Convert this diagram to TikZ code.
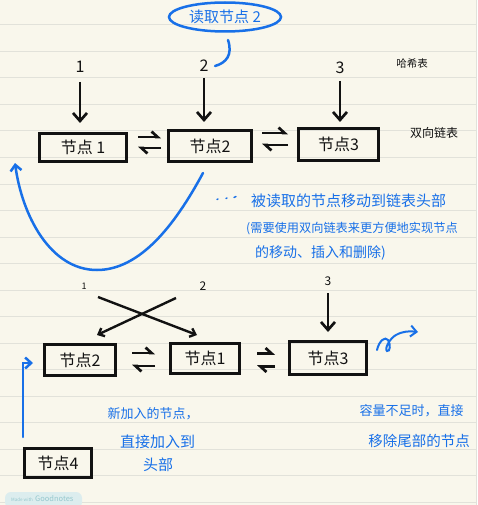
\documentclass[tikz,border=0pt]{standalone}
\usepackage{fontspec}
\setmainfont{Noto Sans CJK SC}
\usetikzlibrary{arrows.meta,calc,shapes.geometric}
\definecolor{paper}{RGB}{249,247,236}
\definecolor{ruleline}{RGB}{226,226,218}
\definecolor{ink}{RGB}{18,18,18}
\definecolor{pen}{RGB}{24,112,232}
\definecolor{wmbg}{RGB}{220,237,238}
\definecolor{wmtext}{RGB}{150,200,206}
\newcommand{\fs}[1]{\fontsize{#1}{#1}\selectfont}
\begin{document}
\begin{tikzpicture}[x=1pt,y=-1pt,
  box/.style={draw=ink,line width=3pt,inner sep=0pt,text=ink,font=\fs{16}},
  num/.style={inner sep=0pt,text=ink,font=\fs{16}},
  darr/.style={draw=ink,line width=2.7pt,-{Straight Barb[length=8pt,width=14pt]}},
  carr/.style={draw=ink,line width=2.4pt,-{Straight Barb[length=5pt,width=9pt]}},
  harp/.style={draw=ink,line width=2.7pt,-{Straight Barb[left,length=6pt,width=11pt]}},
  bline/.style={draw=pen,line width=2.5pt,line cap=round},
  barr/.style={bline,-{Straight Barb[length=6pt,width=11pt]}},
  btext/.style={text=pen,inner sep=0pt},
  side/.style={text=ink,inner sep=0pt},
]
\useasboundingbox (0,0) rectangle (478,505);
% paper
\fill[paper] (0,0) rectangle (478,505);
\foreach \k in {0,...,18} \draw[ruleline,line width=1pt] (0,25+26.5*\k) -- (476,25+26.5*\k);
\fill[white] (476.5,0) rectangle (478,505);
\draw[ruleline,line width=1pt] (476,0) -- (476,505);

% ---------- top: hash table + list ----------
\node[ellipse,draw=pen,line width=2.5pt,minimum width=112pt,minimum height=29pt,inner sep=0pt,text=pen,font=\fs{15}] (ell) at (225,17) {读取节点 2};
\coordinate (arcA) at (228,40);
\coordinate (arcB) at (215,66);
\draw[bline] (arcA) .. controls (233,55) and (226,63) .. (arcB);

\node[num] (k1) at (80,66.5) {1};
\node[num] (k2) at (204,66) {2};
\node[num] (k3) at (340,67.5) {3};
\node[side,font=\fs{10.5}] (hash) at (412,64) {哈希表};

\node[box,minimum width=87pt,minimum height=28pt] (n1) at (83,147.5) {节点 1};
\node[box,minimum width=83pt,minimum height=31pt] (n2) at (210,146) {节点2};
\node[box,minimum width=80pt,minimum height=32pt] (n3) at (338.5,144.5) {节点3};
\node[side,font=\fs{12}] (dll) at (434,133) {双向链表};

\draw[darr,shorten <=15.5pt,shorten >=9pt] (k1.center) -- (k1.center |- n1.north);
\draw[darr,shorten <=12pt,shorten >=7pt] (k2.center) -- (k2.center |- n2.north);
\draw[darr,shorten <=13.5pt,shorten >=5pt] (k3.center) -- (k3.center |- n3.north);

\draw[harp,shorten <=10pt,shorten >=6pt] ([yshift=10.5pt]n1.east) -- ([yshift=10.5pt]n1.east -| n2.west);
\draw[harp,shorten <=6pt,shorten >=10pt] ([yshift=-0.5pt]n1.east -| n2.west) -- ([yshift=-0.5pt]n1.east);
\draw[harp,shorten <=9pt,shorten >=9pt] ([yshift=13pt]n2.east) -- ([yshift=13pt]n2.east -| n3.west);
\draw[harp,shorten <=9pt,shorten >=9pt] ([yshift=1pt]n2.east -| n3.west) -- ([yshift=1pt]n2.east);

% big blue move-to-head arrow
\draw[barr] ([xshift=-7pt,yshift=-10pt]n2.south) .. controls (175,225) and (140,270) .. (97,270)
  .. controls (50,270) and (22,215) .. ([xshift=-23pt]n1.south west);
\draw[bline,line width=1.4pt] (217,199.5) -- (218,199) (226,198.5) -- (227,198) (234,197.5) -- (236,196.5);

\node[btext,anchor=west,font=\fs{15}] (t1) at (251,201) {被读取的节点移动到链表头部};
\node[btext,anchor=west,font=\fs{12.2}] (t2) at (246,228.5) {(需要使用双向链表来更方便地实现节点};
\node[btext,anchor=west,font=\fs{14}] (t3) at (255,252.5) {的移动、插入和删除)};

% ---------- bottom: after the move ----------
\node[num,font=\fs{9}] (j1) at (84,286) {1};
\node[num,font=\fs{12}] (j2) at (203,286) {2};
\node[num,font=\fs{12}] (j3) at (328,281.5) {3};

\node[box,minimum width=71pt,minimum height=31pt] (m2) at (80,360) {节点2};
\node[box,minimum width=69pt,minimum height=30pt] (m1) at (205,358.5) {节点1};
\node[box,minimum width=77pt,minimum height=33pt] (m3) at (328,358) {节点3};
\node[box,minimum width=67pt,minimum height=29pt] (m4) at (58,463) {节点4};

\coordinate (xs1) at (98,297);
\coordinate (xs2) at (176,298);
\draw[carr] (xs1) -- ([xshift=-8pt,yshift=7pt]m1.north);
\draw[carr] (xs2) -- ([xshift=17pt,yshift=8pt]m2.north);
\draw[darr,shorten <=11.5pt,shorten >=8pt] (j3.center) -- (j3.center |- m3.north);

\draw[harp,shorten <=15pt,shorten >=14pt] ([yshift=7pt]m2.east) -- ([yshift=7pt]m2.east -| m1.west);
\draw[harp,shorten <=14pt,shorten >=15pt] ([yshift=-6pt]m2.east -| m1.west) -- ([yshift=-6pt]m2.east);
\draw[harp,shorten <=16pt,shorten >=13pt] ([yshift=5pt]m1.east) -- ([yshift=5pt]m1.east -| m3.west);
\draw[harp,shorten <=13pt,shorten >=16pt] ([yshift=-8pt]m1.east -| m3.west) -- ([yshift=-8pt]m1.east);

% evicted tail squiggle
\coordinate (sq0) at (377,350);
\coordinate (sq1) at (418,332);
\draw[barr,line width=2pt] (sq0) .. controls (379,341) and (385,336) .. (388,340)
  .. controls (391,345) and (390,352) .. (387,351) .. controls (384,349) and (390,338) .. (396,335)
  .. controls (403,331) and (410,331) .. (sq1);

% new node to head
\draw[barr,shorten >=10pt] ([yshift=10pt]m4.north west) |- ([yshift=-3pt]m2.west);

\node[btext,font=\fs{13}] (b1) at (153,414) {新加入的节点，};
\node[btext,font=\fs{15}] (b2) at (157.5,441.5) {直接加入到};
\node[btext,font=\fs{15}] (b3) at (158,465) {头部};

\node[btext,font=\fs{13}] (r1) at (411.5,410.5) {容量不足时，直接};
\node[btext,font=\fs{14.5}] (r2) at (419,440.5) {移除尾部的节点};

% watermark
\fill[wmbg,rounded corners=6pt] (5,492) rectangle (82,508);
\node[text=wmtext,inner sep=0pt,anchor=west,font=\fs{4.5}] (wm1) at (11,499.5) {Made with};
\node[text=wmtext,inner sep=0pt,anchor=west,font=\fs{7.5}] (wm2) at (35,499) {Goodnotes};
\end{tikzpicture}
\end{document}
